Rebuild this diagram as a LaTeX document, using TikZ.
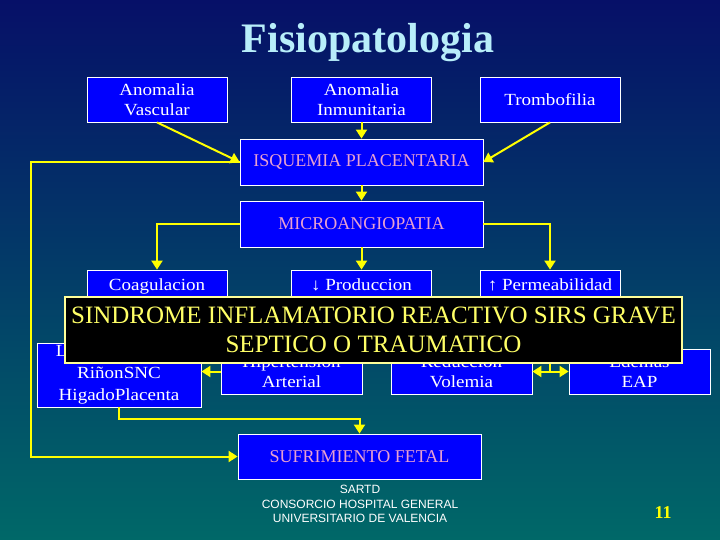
\documentclass[tikz,border=0pt]{standalone}
\usepackage{fontspec}
\setmainfont{Liberation Serif}
\newfontfamily\cajafont[FakeStretch=1.12]{Liberation Serif}
\newfontfamily\footfont{Liberation Sans}
\usetikzlibrary{arrows.meta}
\definecolor{boxblue}{RGB}{0,0,255}
\definecolor{rosa}{RGB}{232,160,208}
\definecolor{amarillo}{RGB}{255,255,0}
\definecolor{amarillop}{RGB}{255,255,102}
\definecolor{bordesirs}{RGB}{255,255,153}
\definecolor{fondoa}{RGB}{6,16,104}
\definecolor{fondob}{RGB}{0,104,104}
\definecolor{titulo}{RGB}{184,238,250}

\begin{document}
\begin{tikzpicture}[x=1pt,y=-1pt,
	caja/.style={draw=white, line width=0.8pt, fill=boxblue, text=white, align=center,
		inner sep=0pt, minimum width=140pt, minimum height=45pt, font=\cajafont\fontsize{17}{20}\selectfont},
	ancha/.style={caja, minimum width=243pt, minimum height=46pt, text=rosa, font=\fontsize{18}{20}\selectfont},
	arriba/.style={text height=20pt, text depth=25pt},
	punta/.tip={Triangle[length=9pt,width=11pt]},
	linea/.style={amarillo, line width=2pt},
	flecha/.style={linea, -punta},
	doble/.style={linea, punta-punta}]

\useasboundingbox (0,0) rectangle (720,540);
\shade[top color=fondoa, bottom color=fondob] (0,0) rectangle (720,540);

\node[text=titulo, font=\bfseries\fontsize{42}{46}\selectfont, anchor=base] (titulo) at (368,53) {Fisiopatologia};

\node[caja]		(vasc)	at (157,99.5)	{Anomalia\\Vascular};
\node[caja]		(inmun)	at (361.5,99.5)	{Anomalia\\Inmunitaria};
\node[caja]		(trombo)	at (550,99.5)	{Trombofilia};
\node[ancha]		(isq)		at (361.5,162)	{ISQUEMIA PLACENTARIA};
\node[ancha]		(micro)	at (361.5,224)	{MICROANGIOPATIA};
\node[caja,arriba]	(coag)	at (157,292.5)	{Coagulacion};
\node[caja,arriba]	(prod)	at (361.5,292.5)	{↓ Produccion};
\node[caja,arriba]	(perm)	at (550,292.5)	{↑ Permeabilidad};
\node[caja, minimum width=164pt, minimum height=64pt, font=\cajafont\fontsize{17}{22}\selectfont]
			(lesion)	at (119,375)	{Lesion Organica\\RiñonSNC\\HigadoPlacenta};
\node[caja, minimum width=141pt]	(hiper)	at (291.5,371.5)	{Hipertension\\Arterial};
\node[caja, minimum width=141pt]	(reduc)	at (461.5,371.5)	{Reduccion\\Volemia};
\node[caja, minimum width=141pt]	(edem)	at (639.5,371.5)	{Edemas\\EAP};
\node[ancha, minimum height=45pt]	(fetal)	at (359.5,456.5)	{SUFRIMIENTO FETAL};

\coordinate (izq) at (31,0);

\draw[flecha] (vasc.south)		--	(isq.west);
\draw[flecha] (inmun.south)	--	(isq.north);
\draw[flecha] (trombo.south)	--	(isq.east);
\draw[flecha] (isq.west)		--	(isq.west -| izq) -- (izq |- fetal.west) -- (fetal.west);
\draw[flecha] (isq.south)		--	(micro.north);
\draw[flecha] (micro.west)		-|	(coag.north);
\draw[flecha] (micro.south)	--	(prod.north);
\draw[flecha] (micro.east)		-|	(perm.north);
\draw[flecha] (hiper.west)		--	(hiper.west -| lesion.east);
\draw[doble]  (reduc.east)		--	(edem.west);
\draw[linea]  (perm.south)		--	(perm.south |- reduc.east);
\draw[flecha] (lesion.south)	--	++(0,12) -| (fetal.north);

\node[draw=bordesirs, line width=1.5pt, fill=black, text=amarillop, align=center, inner sep=0pt,
	minimum width=617pt, minimum height=66pt, font=\fontsize{25}{29}\selectfont]
	(sirs) at (373.5,330) {SINDROME INFLAMATORIO REACTIVO SIRS GRAVE\\SEPTICO O TRAUMATICO};

\node[text=white, align=center, font=\footfont\fontsize{12}{14.5}\selectfont] (pie) at (360,504)
	{SARTD\\CONSORCIO HOSPITAL GENERAL\\UNIVERSITARIO DE VALENCIA};
\node[text=amarillo, font=\bfseries\fontsize{18}{20}\selectfont] (num) at (663,513) {11};

\end{tikzpicture}
\end{document}
